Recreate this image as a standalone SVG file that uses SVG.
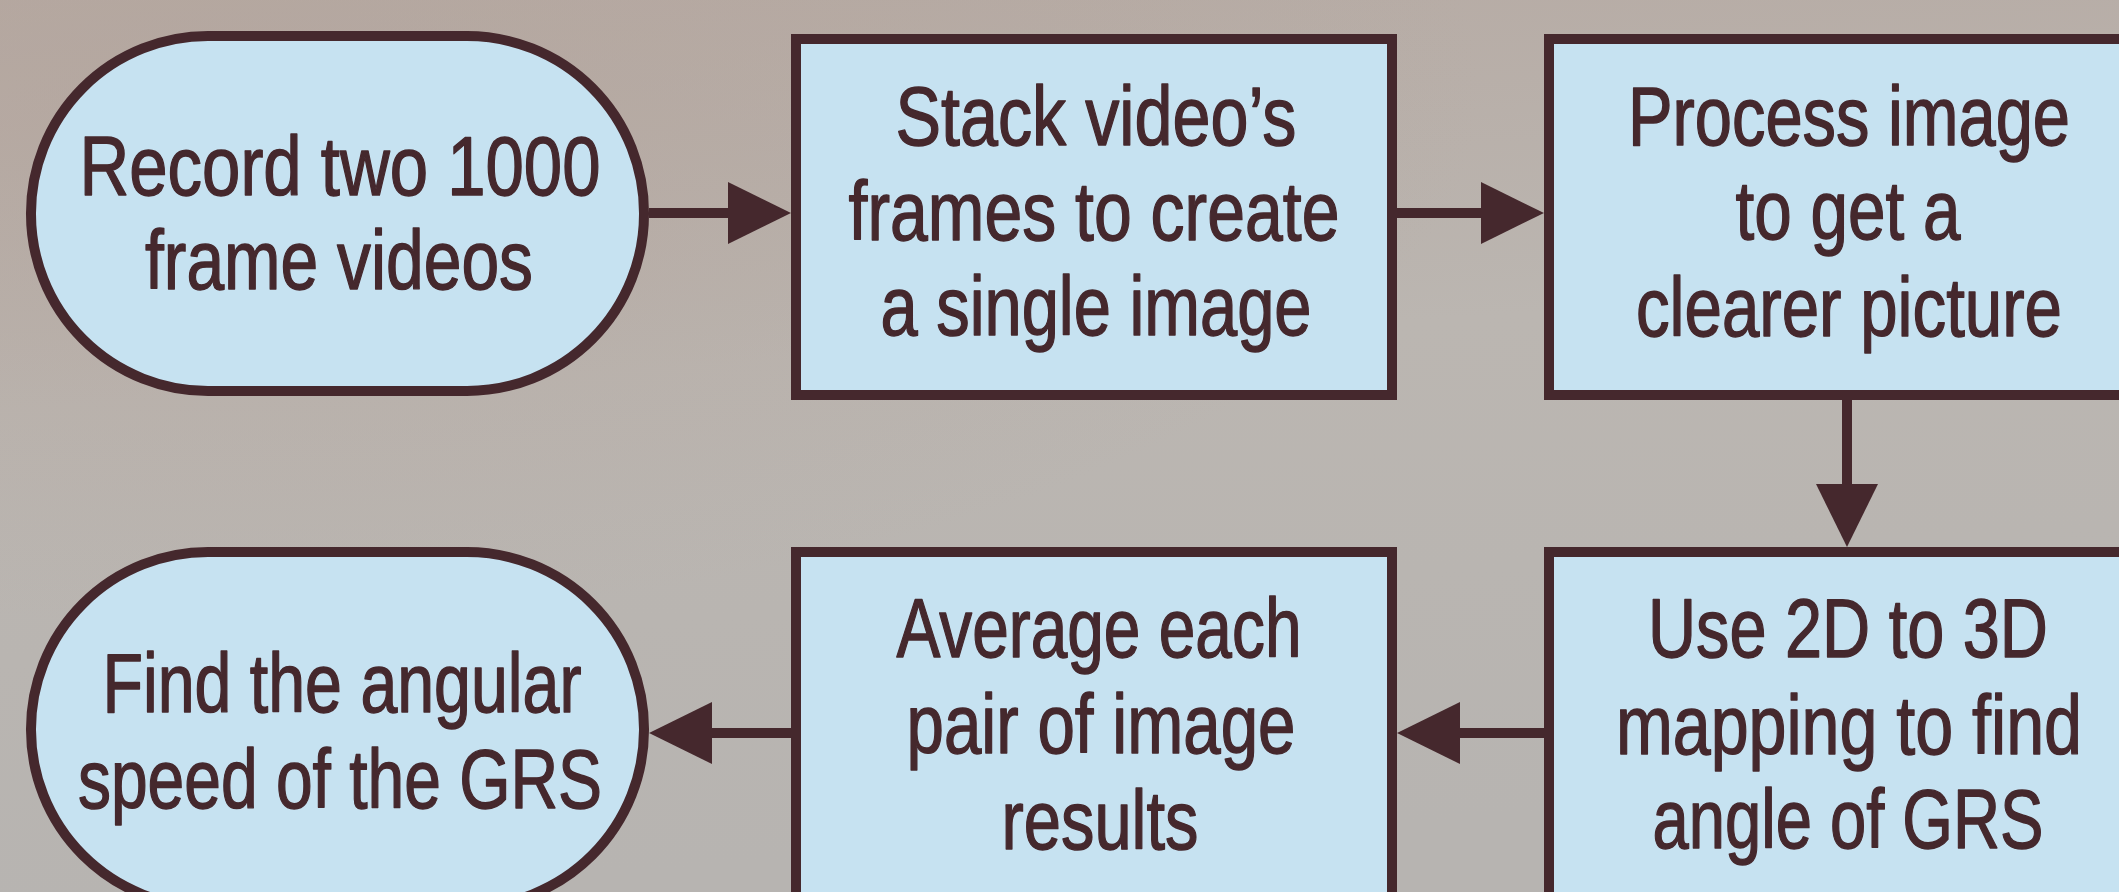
<svg xmlns="http://www.w3.org/2000/svg" width="2119" height="892" viewBox="0 0 2119 892">
  <defs>
    <linearGradient id="bg" x1="0" y1="0" x2="0.15" y2="1">
      <stop offset="0" stop-color="#b6aaa3"/>
      <stop offset="0.45" stop-color="#bbb6b1"/>
      <stop offset="1" stop-color="#b7b4b1"/>
    </linearGradient>
    <radialGradient id="warm" cx="0.1" cy="0.1" r="0.6">
      <stop offset="0" stop-color="#b3a49c" stop-opacity="0.6"/>
      <stop offset="1" stop-color="#b3a49c" stop-opacity="0"/>
    </radialGradient>
    <marker id="head" viewBox="0 0 63 62" refX="0" refY="31" markerWidth="63" markerHeight="62" markerUnits="userSpaceOnUse" orient="auto">
      <path d="M0,0 L63,31 L0,62 Z" fill="#45282d"/>
    </marker>
  </defs>
  <style>
    .node { fill: #c6e2f1; stroke: #45282d; stroke-width: 10; }
    .label { font-family: "Liberation Sans", Arial, sans-serif; font-size: 84px; fill: #45282d; stroke: #45282d; stroke-width: 1.4; stroke-linejoin: round; text-anchor: middle; }
    .link { stroke: #45282d; stroke-width: 10; fill: none; marker-end: url(#head); }
  </style>

  <!-- backdrop -->
  <rect width="2119" height="892" fill="url(#bg)"/>
  <rect width="2119" height="892" fill="url(#warm)"/>

  <!-- connectors -->
  <g id="connectors">
    <line class="link" x1="649" y1="213" x2="728" y2="213"/>
    <line class="link" x1="1397" y1="213" x2="1481" y2="213"/>
    <line class="link" x1="1847" y1="400" x2="1847" y2="484"/>
    <line class="link" x1="1544" y1="733" x2="1460" y2="733"/>
    <line class="link" x1="791" y1="733" x2="712" y2="733"/>
  </g>

  <!-- start: record -->
  <g id="record">
    <rect class="node" x="31" y="36" width="613" height="355" rx="177" ry="177"/>
    <text class="label" x="340" y="195" textLength="521" lengthAdjust="spacingAndGlyphs">Record two 1000</text>
    <text class="label" x="339" y="289" textLength="388" lengthAdjust="spacingAndGlyphs">frame videos</text>
  </g>

  <!-- stack frames -->
  <g id="stack">
    <rect class="node" x="796" y="39" width="596" height="356"/>
    <text class="label" x="1096" y="145" textLength="401" lengthAdjust="spacingAndGlyphs">Stack video’s</text>
    <text class="label" x="1094" y="240" textLength="491" lengthAdjust="spacingAndGlyphs">frames to create</text>
    <text class="label" x="1096" y="335" textLength="431" lengthAdjust="spacingAndGlyphs">a single image</text>
  </g>

  <!-- process image -->
  <g id="process">
    <rect class="node" x="1549" y="39" width="596" height="356"/>
    <text class="label" x="1849" y="145" textLength="442" lengthAdjust="spacingAndGlyphs">Process image</text>
    <text class="label" x="1848" y="239" textLength="225" lengthAdjust="spacingAndGlyphs">to get a</text>
    <text class="label" x="1849" y="336" textLength="426" lengthAdjust="spacingAndGlyphs">clearer picture</text>
  </g>

  <!-- 2D to 3D mapping -->
  <g id="mapping">
    <rect class="node" x="1549" y="552" width="596" height="356"/>
    <text class="label" x="1848" y="657" textLength="400" lengthAdjust="spacingAndGlyphs">Use 2D to 3D</text>
    <text class="label" x="1849" y="754" textLength="466" lengthAdjust="spacingAndGlyphs">mapping to find</text>
    <text class="label" x="1848" y="848" textLength="391" lengthAdjust="spacingAndGlyphs">angle of GRS</text>
  </g>

  <!-- average results -->
  <g id="average">
    <rect class="node" x="796" y="552" width="596" height="356"/>
    <text class="label" x="1099" y="657" textLength="405" lengthAdjust="spacingAndGlyphs">Average each</text>
    <text class="label" x="1101" y="753" textLength="389" lengthAdjust="spacingAndGlyphs">pair of image</text>
    <text class="label" x="1100" y="849" textLength="197" lengthAdjust="spacingAndGlyphs">results</text>
  </g>

  <!-- end: angular speed -->
  <g id="speed">
    <rect class="node" x="31" y="552" width="613" height="355" rx="177" ry="177"/>
    <text class="label" x="342" y="712" textLength="479" lengthAdjust="spacingAndGlyphs">Find the angular</text>
    <text class="label" x="340" y="808" textLength="524" lengthAdjust="spacingAndGlyphs">speed of the GRS</text>
  </g>
</svg>
